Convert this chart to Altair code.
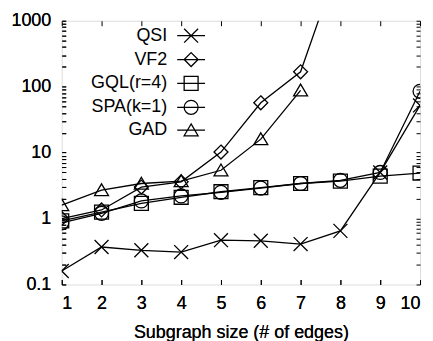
import altair as alt
import pandas as pd

sizes = [1, 2, 3, 4, 5, 6, 7, 8, 9, 10]
names = ["QSI", "VF2", "GQL(r=4)", "SPA(k=1)", "GAD"]
qsi = [0.16, 0.37, 0.33, 0.31, 0.47, 0.46, 0.41, 0.65, 5.0, 52]
vf2 = [1.0, 1.35, 3.0, 3.6, 10.2, 57, 168, 9000]
gql = [0.92, 1.25, 1.7, 2.1, 2.55, 2.95, 3.4, 3.7, 4.4, 4.9]
spa = [0.86, 1.2, 1.85, 2.2, 2.5, 2.9, 3.4, 3.8, 5.0, 85]
gad = [1.6, 2.7, 3.4, 3.7, 5.4, 16, 88]

rows = []
for name, vals in zip(names, [qsi, vf2, gql, spa, gad]):
    for s, v in zip(sizes, vals):
        rows.append({"size": s, "time": v, "algo": name})
df = pd.DataFrame(rows)

# marker paths
X = "M-1,-1L1,1M-1,1L1,-1"
DIA = "M0,-1L1,0L0,1L-1,0Z"
SQ = "M-1,-1L1,-1L1,1L-1,1Z"
CIR = "M1,0A1,1 0 1,1 -1,0A1,1 0 1,1 1,0Z"
TRI = "M0,-0.9L1,0.8L-1,0.8Z"
shapes = [X, DIA, SQ, CIR, TRI]
legend_shapes = ["M-2,0L2,0" + s for s in shapes]

majors = [0.1, 1, 10, 100, 1000]
minors = [round(m * d, 6) for d in [0.1, 1, 10, 100] for m in range(2, 10)]
yvals = sorted(majors + minors)

FONT = "Liberation Sans"
FS = 18

xscale = alt.Scale(domain=[1, 10], nice=False, zero=False)
yscale = alt.Scale(type="log", domain=[0.1, 1000], nice=False)

x_bottom = alt.Axis(values=sizes, format="d", title="Subgraph size (# of edges)",
                    orient="bottom", offset=-5, tickSize=5, domain=False, grid=False,
                    labelPadding=10, titlePadding=11, labelFontSize=FS, titleFontSize=FS,
                    labelFont=FONT, titleFont=FONT, titleFontWeight="normal",
                    tickColor="black", labelColor="black", titleColor="black")
y_left = alt.Axis(values=yvals, format="~g", title=None, orient="left", offset=-4,
                  tickSize=4, domain=False, grid=False, labelPadding=11,
                  labelExpr="indexof([0.1,1,10,100,1000], datum.value) >= 0 ? datum.label : ''",
                  labelOverlap=False, labelFontSize=FS, labelFont=FONT,
                  tickColor="black", labelColor="black")
x_top = alt.Axis(values=sizes, orient="top", offset=-5, tickSize=5, domain=False,
                 grid=False, labels=False, title=None, tickColor="black")
y_right = alt.Axis(values=yvals, orient="right", offset=-4, tickSize=4, domain=False,
                   grid=False, labels=False, title=None, tickColor="black")

base = alt.Chart(df)

lines = base.mark_line(color="black", strokeWidth=1.3, clip=True).encode(
    x=alt.X("size:Q", scale=xscale, axis=x_bottom),
    y=alt.Y("time:Q", scale=yscale, axis=y_left),
    detail="algo:N",
)

points = base.mark_point(filled=False, color="black", size=196, strokeWidth=1.3,
                         opacity=1, clip=True).encode(
    x=alt.X("size:Q", scale=xscale, axis=x_bottom),
    y=alt.Y("time:Q", scale=yscale, axis=y_left),
    shape=alt.Shape("algo:N", scale=alt.Scale(domain=names, range=shapes), legend=None),
)

legend_layer = base.mark_point(filled=False, color="black", size=196, strokeWidth=1.3).encode(
    x=alt.X("size:Q", scale=xscale, axis=x_top),
    y=alt.Y("time:Q", scale=yscale, axis=y_right),
    shape=alt.Shape("algo:N", scale=alt.Scale(domain=names, range=legend_shapes),
                    legend=alt.Legend(title=None, orient="none", legendX=121, legendY=6,
                                      padding=0, labelAlign="right",
                                      labelOffset={"expr": "-33"},
                                      labelFont=FONT, labelFontSize=FS, labelColor="black",
                                      symbolStrokeColor="black", symbolStrokeWidth=1.3,
                                      symbolFillColor="transparent", symbolSize=196,
                                      symbolOpacity=1, rowPadding=4, labelLimit=200)),
).transform_filter("false")

chart = alt.layer(lines, points, legend_layer).resolve_scale(shape="independent").properties(
    width=360, height=265,
    autosize=alt.AutoSizeParams(type="none"),
    padding={"left": 54, "top": 12, "right": 5, "bottom": 56},
).configure_view(stroke="black", strokeWidth=1.5).configure(background="white")

chart.save("out.html", embed_options={"renderer": "svg", "actions": False})
